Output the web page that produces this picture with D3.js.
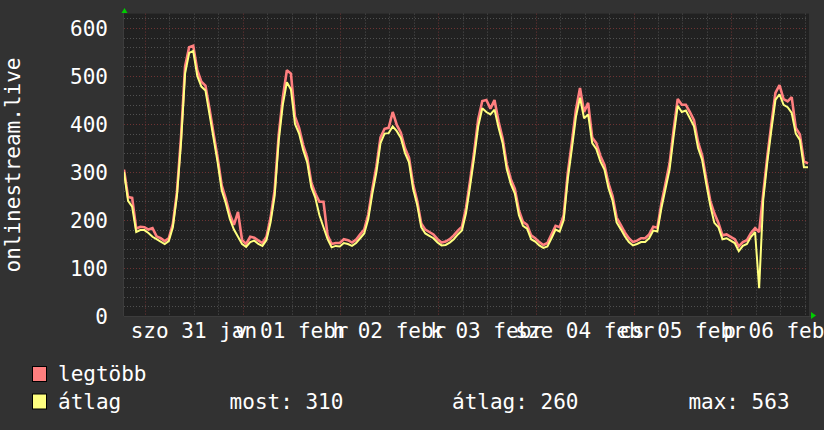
<!DOCTYPE html>
<html><head><meta charset="utf-8">
<script src="https://cdn.jsdelivr.net/npm/d3@7"></script>
<style>
html,body{margin:0;padding:0;background:#323232;}
svg{display:block;}
text{font-family:"DejaVu Sans Mono",monospace;}
</style>
</head><body>
<svg id="c" width="824" height="430"></svg>
<script>
// ---- data ----
const seriesNames = ["legtöbb", "átlag"];
const seriesColors = ["#ff7f7f", "#ffff7f"];
const startTime = new Date(2015, 0, 30, 18, 50);
const stepHours = 1;
const maxValues = [
  305,248,246,182,186,185,180,183,166,162,
  156,162,192,258,372,520,560,563,512,488,
  480,432,380,330,272,244,212,190,217,158,
  150,165,163,157,152,165,205,262,378,455,
  512,505,415,392,356,330,278,255,238,238,
  168,150,152,152,160,158,153,159,170,180,
  212,265,312,372,390,392,425,398,382,350,
  330,275,240,193,180,175,170,160,153,155,
  160,168,178,186,225,282,342,410,448,450,
  432,450,405,370,316,285,265,220,196,190,
  168,162,154,148,152,170,188,185,210,298,
  362,430,475,425,444,372,360,334,315,276,
  250,205,190,174,162,154,157,162,162,170,
  186,184,235,276,318,388,452,440,440,425,
  408,362,335,286,240,214,194,168,170,165,
  160,145,154,158,173,183,175,255,332,400,
  465,481,452,447,456,392,378,322,318
];
const avgValues = [
  300,240,228,175,179,179,173,165,160,155,
  150,156,185,250,360,505,548,552,500,478,
  470,420,370,320,262,235,202,180,165,150,
  144,154,157,150,146,158,195,250,365,440,
  487,472,400,380,346,320,268,246,210,185,
  160,143,146,145,152,150,146,152,162,172,
  202,255,300,360,380,381,395,385,371,340,
  320,265,232,185,172,167,162,153,147,148,
  153,160,170,178,214,270,330,395,433,425,
  420,430,392,360,306,275,255,210,188,182,
  160,155,147,142,145,162,180,176,200,285,
  348,415,455,412,420,360,348,322,305,266,
  240,195,181,166,154,147,150,154,154,162,
  178,176,225,265,305,375,438,425,428,412,
  395,350,325,276,230,194,185,160,162,157,
  152,135,146,150,165,175,58,242,320,387,
  450,462,440,435,423,380,367,310,310
];
const yTickValues = [0, 100, 200, 300, 400, 500, 600];
const dayLabels = ["szo 31 jan", "v 01 febr", "h 02 febr", "k 03 febr", "sze 04 febr", "cs 05 febr", "p 06 febr"];
const yAxisTitle = "onlinestream.live";
const legendStats = [
  {label: "most:", value: 310},
  {label: "átlag:", value: 260},
  {label: "max:", value: 563}
];

// ---- layout ----
const W = 824, H = 430;
const L = 124, R = 808, T = 13.6, B = 316;
const svg = d3.select("#c");
const endTime = d3.timeHour.offset(startTime, stepHours * (avgValues.length - 1));

const x = d3.scaleTime().domain([startTime, endTime]).range([L, R]);
const y = d3.scaleLinear().domain([0, 630]).range([B, T]);

svg.append("rect").attr("width", W).attr("height", H).attr("fill", "#323232");
svg.append("rect").attr("x", L).attr("y", T).attr("width", R - L + 1).attr("height", B - T).attr("fill", "#212121");

const grid = svg.append("g");
const minorCol = "#505050", majorCol = "#6e3434";
d3.range(20, 630, 20).filter(v => v % 100 !== 0).forEach(v => {
  grid.append("line").attr("x1", L).attr("x2", R).attr("y1", Math.round(y(v)) + 0.5).attr("y2", Math.round(y(v)) + 0.5)
    .attr("stroke", minorCol).attr("stroke-dasharray", "1,2");
});
d3.timeHour.every(6).range(startTime, endTime).filter(d => d.getHours() !== 0).forEach(d => {
  grid.append("line").attr("x1", Math.round(x(d)) + 0.5).attr("x2", Math.round(x(d)) + 0.5).attr("y1", T).attr("y2", B)
    .attr("stroke", minorCol).attr("stroke-dasharray", "1,2");
});
yTickValues.filter(v => v > 0).forEach(v => {
  grid.append("line").attr("x1", L).attr("x2", R).attr("y1", Math.round(y(v)) + 0.5).attr("y2", Math.round(y(v)) + 0.5)
    .attr("stroke", majorCol).attr("stroke-dasharray", "1,2");
});
d3.timeDay.range(startTime, endTime).forEach(d => {
  grid.append("line").attr("x1", Math.round(x(d)) + 0.5).attr("x2", Math.round(x(d)) + 0.5).attr("y1", T).attr("y2", B)
    .attr("stroke", majorCol).attr("stroke-dasharray", "1,2");
});

// axes
svg.append("line").attr("x1", L - 0.5).attr("x2", L - 0.5).attr("y1", 10).attr("y2", B).attr("stroke", "#3c3c3c");
svg.append("line").attr("x1", L).attr("x2", 812).attr("y1", B + 0.5).attr("y2", B + 0.5).attr("stroke", "#3c3c3c");
svg.append("polygon").attr("points", "121.5,13 127.5,13 124.5,8").attr("fill", "#00cc00");
svg.append("polygon").attr("points", "811,312 811,319 816,315.5").attr("fill", "#00cc00");

// y tick labels
yTickValues.forEach(v => {
  svg.append("text").attr("x", 108).attr("y", y(v) + 7.6).attr("text-anchor", "end")
    .attr("font-size", 21).attr("fill", "#fff").text(v);
});
// x labels centered on noon of each day
const firstDay = d3.timeDay.ceil(startTime);
dayLabels.forEach((lab, i) => {
  const noon = d3.timeHour.offset(d3.timeDay.offset(firstDay, i), 12);
  svg.append("text").attr("x", x(noon)).attr("y", 338).attr("text-anchor", "middle")
    .attr("font-size", 21).attr("fill", "#fff").text(lab);
});
// y title
svg.append("text").attr("transform", "translate(20,165) rotate(-90)").attr("text-anchor", "middle")
  .attr("font-size", 21).attr("fill", "#fff").text(yAxisTitle);

// lines
svg.append("clipPath").attr("id", "clip").append("rect").attr("x", L).attr("y", T).attr("width", R - L + 2).attr("height", B - T);
const mk = vals => vals.map((v, i) => ({t: d3.timeHour.offset(startTime, i * stepHours), v}));
const line = d3.line().x(d => x(d.t)).y(d => y(d.v)).curve(d3.curveLinear);
const g = svg.append("g").attr("clip-path", "url(#clip)");
g.append("path").attr("d", line(mk(maxValues))).attr("fill", "none").attr("stroke", seriesColors[0])
  .attr("stroke-width", 2.6).attr("stroke-linejoin", "miter").attr("stroke-miterlimit", 2);
g.append("path").attr("d", line(mk(avgValues))).attr("fill", "none").attr("stroke", seriesColors[1])
  .attr("stroke-width", 2).attr("stroke-linejoin", "miter").attr("stroke-miterlimit", 2);

// legend
[0, 1].forEach(i => {
  svg.append("rect").attr("x", 32.5).attr("y", 366.5 + i * 27.5).attr("width", 14).attr("height", 15)
    .attr("fill", seriesColors[i]).attr("stroke", "#000");
  svg.append("text").attr("x", 58).attr("y", 381 + i * 27.5).attr("font-size", 21).attr("fill", "#fff").text(seriesNames[i]);
});
const statX = [229.6, 452, 688.4];
legendStats.forEach((s, i) => {
  svg.append("text").attr("x", statX[i]).attr("y", 408.5).attr("font-size", 21).attr("fill", "#fff")
    .text(s.label + " " + s.value);
});
</script>
</body></html>
